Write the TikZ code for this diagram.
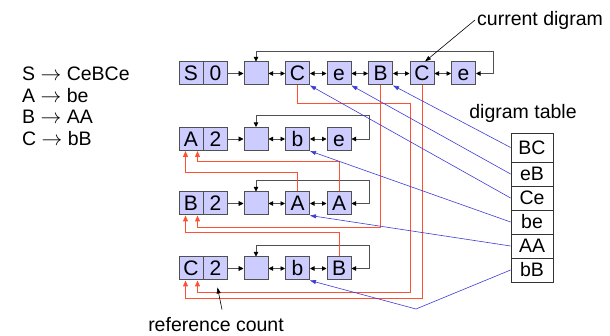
\documentclass[tikz,border=0pt]{standalone}
\usepackage{fontspec}
\setmainfont{Liberation Sans}
\usetikzlibrary{arrows.meta}

\definecolor{symfill}{RGB}{204,204,255}
\definecolor{linegray}{RGB}{80,80,80}
\definecolor{refred}{RGB}{255,80,50}
\definecolor{digblue}{RGB}{60,60,215}

\tikzset{
	sym/.style={draw=linegray, fill=symfill, line width=1pt, minimum width=24pt, minimum height=23pt, inner sep=0pt, text height=15pt, text depth=0pt, font=\fontsize{21}{21}\selectfont},
	cell/.style={draw=black!80, line width=0.8pt, minimum width=42pt, minimum height=24pt, inner sep=0pt, text height=14pt, text depth=0pt, font=\fontsize{19.5}{20}\selectfont},
	lbl/.style={inner sep=0pt, font=\fontsize{19.5}{20}\selectfont},
	fwd/.style={draw=linegray, line width=0.8pt, -{Triangle[length=5pt,width=5pt,black]}},
	link/.style={draw=linegray, line width=0.8pt, {Triangle[length=4.5pt,width=4.5pt,black]}-{Triangle[length=4.5pt,width=4.5pt,black]}},
	ref/.style={draw=refred, line width=1pt, -{Triangle[length=6pt,width=5pt]}},
	dig/.style={draw=digblue, line width=0.6pt, -{Triangle[length=6pt,width=4pt]}},
	note/.style={draw=black, line width=0.6pt, -{Triangle[length=6pt,width=4pt]}}
}

\begin{document}
\begin{tikzpicture}[x=1pt, y=-1pt]
	\useasboundingbox (0,0) rectangle (610,336);

	% Grammar rules:
	\node[lbl, anchor=west] (ruleS) at (22,74) {S $\rightarrow$ CeBCe};
	\node[lbl, anchor=west] (ruleA) at (22,96) {A $\rightarrow$ be};
	\node[lbl, anchor=west] (ruleB) at (22,117) {B $\rightarrow$ AA};
	\node[lbl, anchor=west] (ruleC) at (22,139) {C $\rightarrow$ bB};

	% Rule S:
	\node[sym] (s) at (191,73.5) {S};
	\node[sym] (s0) at (215.5,73.5) {0};
	\node[sym] (sg) at (256,73.5) {};
	\node[sym] (s1) at (297.5,73.5) {C};
	\node[sym] (s2) at (339,73.5) {e};
	\node[sym] (s3) at (380.5,73.5) {B};
	\node[sym] (s4) at (422,73.5) {C};
	\node[sym] (s5) at (463.5,73.5) {e};
	\draw[fwd] (s0) -- (sg);
	\draw[link] (sg) -- (s1);
	\draw[link] (s1) -- (s2);
	\draw[link] (s2) -- (s3);
	\draw[link] (s3) -- (s4);
	\draw[link] (s4) -- (s5);
	\coordinate (sturn) at (493,51);
	\draw[link] (sg.north) |- (sturn) |- (s5.east);

	% Rule A:
	\node[sym] (a) at (191,139) {A};
	\node[sym] (a0) at (215.5,139) {2};
	\node[sym] (ag) at (256,139) {};
	\node[sym] (a1) at (297.5,139) {b};
	\node[sym] (a2) at (339,139) {e};
	\draw[fwd] (a0) -- (ag);
	\draw[link] (ag) -- (a1);
	\draw[link] (a1) -- (a2);
	\coordinate (aturn) at (369,115);
	\draw[link] (ag.north) |- (aturn) |- (a2.east);

	% Rule B:
	\node[sym] (b) at (191,203.5) {B};
	\node[sym] (b0) at (215.5,203.5) {2};
	\node[sym] (bg) at (256,203.5) {};
	\node[sym] (b1) at (297.5,203.5) {A};
	\node[sym] (b2) at (339,203.5) {A};
	\draw[fwd] (b0) -- (bg);
	\draw[link] (bg) -- (b1);
	\draw[link] (b1) -- (b2);
	\coordinate (bturn) at (369,180);
	\draw[link] (bg.north) |- (bturn) |- (b2.east);

	% Rule C:
	\node[sym] (c) at (191,268.5) {C};
	\node[sym] (c0) at (215.5,268.5) {2};
	\node[sym] (cg) at (256,268.5) {};
	\node[sym] (c1) at (297.5,268.5) {b};
	\node[sym] (c2) at (339,268.5) {B};
	\draw[fwd] (c0) -- (cg);
	\draw[link] (cg) -- (c1);
	\draw[link] (c1) -- (c2);
	\coordinate (cturn) at (369,245);
	\draw[link] (cg.north) |- (cturn) |- (c2.east);

	% Red reference links back to the rule heads:
	\draw[ref] (b2.north) -- ++(0,-29.5) -| ([xshift=6.5pt]a.south);
	\draw[ref] (b1.north) -- ++(0,-18.5) -| ([xshift=-5.5pt]a.south);
	\draw[ref] (s3.south) -- ++(0,142.5) -| ([xshift=6.5pt]b.south);
	\draw[ref] (c2.north) -- ++(0,-23.5) -| ([xshift=-5.5pt]b.south);
	\draw[ref] (s1.south) |- (410.5,103.5) -- (410.5,292.5) -| ([xshift=6.5pt]c.south);
	\draw[ref] (s4.south) -- ++(0,213.5) -| ([xshift=-5.5pt]c.south);

	% Digram table:
	\node[lbl] (tbllbl) at (523,113) {digram table};
	\node[cell, minimum height=29pt] (tBC) at (532,147.5) {BC};
	\node[cell] (teB) at (532,174) {eB};
	\node[cell] (tCe) at (532,198) {Ce};
	\node[cell] (tbe) at (532,222) {be};
	\node[cell] (tAA) at (532,246) {AA};
	\node[cell] (tbB) at (532,270) {bB};

	% Blue digram pointers:
	\draw[dig] (tBC.west) -- (s3.south east);
	\draw[dig] (teB.west) -- (s2.south east);
	\draw[dig] (tCe.west) -- (s1.south east);
	\draw[dig] (tbe.west) -- (a1.south east);
	\draw[dig] (tAA.west) -- (b1.south east);
	\draw[dig] (tbB.west) -- (416,309) -- (c1.south east);

	% Annotations:
	\node[lbl, anchor=west] (curlbl) at (477,20) {current digram};
	\draw[note] ([xshift=-2pt]curlbl.west) -- ([xshift=3pt]s4.north);
	\node[lbl] (reflbl) at (216,325) {reference count};
	\draw[note] ([xshift=6pt,yshift=8pt]reflbl.north) -- ([xshift=2pt,yshift=-7pt]c0.south);
\end{tikzpicture}
\end{document}
